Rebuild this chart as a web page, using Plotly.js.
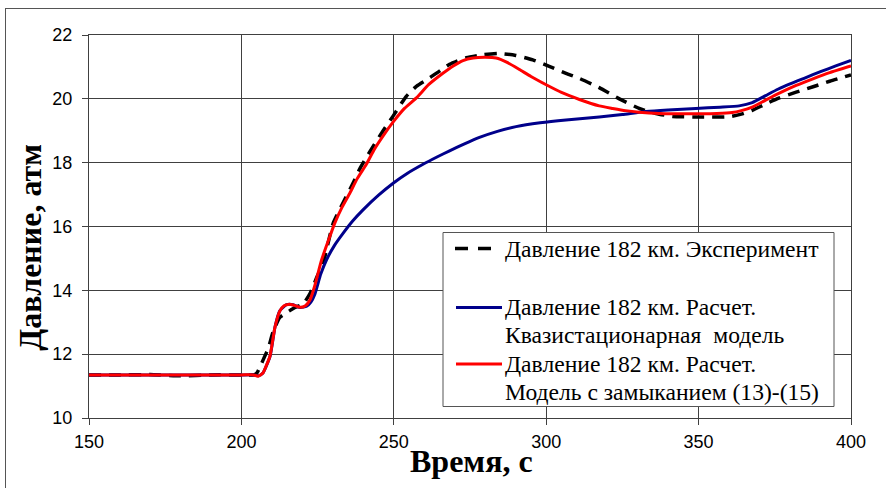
<!DOCTYPE html>
<html>
<head>
<meta charset="utf-8">
<script src="https://cdn.plot.ly/plotly-3.0.1.min.js"></script>
<style>
  html, body { margin: 0; padding: 0; background: #fff; }
  #wrap { position: relative; width: 886px; height: 488px; overflow: hidden; }
  #chart { position: absolute; left: 0; top: 0; width: 886px; height: 488px; }
  #frame { position: absolute; left: 5px; top: 8px; width: 900px; height: 500px;
           border: 1px solid #555; pointer-events: none; }
</style>
</head>
<body>
<div id="wrap"><div id="chart"></div><div id="frame"></div></div>
<script>
// ---- Data ----
const expTime = [150, 160, 170, 180, 190, 200, 204, 205, 206.1, 207.5, 208.8, 210.4, 212.6, 214.8, 217.6, 220.3, 222.5, 224.7, 226.8, 230.1, 233.4, 236.6, 238.8, 242.5, 246.5, 249.7, 254.1, 257.5, 261.8, 268.3, 273.8, 279, 284.7, 290, 295.6, 301, 306.5, 310.9, 317.4, 324, 330.5, 336, 341.4, 350, 360, 364, 367.6, 372, 376.3, 382, 387.3, 393, 400];
const expPressure = [11.35, 11.35, 11.36, 11.32, 11.35, 11.35, 11.35, 11.4, 11.6, 11.9, 12.18, 12.7, 13.15, 13.3, 13.46, 13.58, 13.9, 14.4, 14.85, 16.1, 16.75, 17.35, 17.8, 18.4, 19.0, 19.45, 20.08, 20.4, 20.66, 21.08, 21.29, 21.38, 21.42, 21.36, 21.22, 21.02, 20.8, 20.64, 20.35, 20.0, 19.7, 19.54, 19.45, 19.43, 19.44, 19.52, 19.64, 19.84, 20.02, 20.21, 20.37, 20.55, 20.75];

const quasiTime = [150, 160, 170, 180, 190, 200, 204, 205.5, 207, 209.4, 211, 212.6, 214.8, 217, 219.3, 221.4, 222.8, 224.1, 226, 227.9, 230.5, 233.4, 236.5, 239.9, 245, 250, 254.5, 259.6, 264, 268.3, 273, 278.1, 284, 290.1, 298, 306.5, 317.4, 325, 332.7, 340, 349.1, 357, 363.3, 367.6, 372, 376, 380, 385, 390, 395, 400];
const quasiPressure = [11.35, 11.35, 11.35, 11.35, 11.35, 11.35, 11.35, 11.32, 11.4, 11.93, 12.84, 13.36, 13.55, 13.55, 13.46, 13.5, 13.63, 13.88, 14.5, 14.95, 15.4, 15.79, 16.17, 16.52, 16.98, 17.37, 17.67, 17.95, 18.17, 18.37, 18.58, 18.79, 18.98, 19.13, 19.25, 19.34, 19.43, 19.51, 19.6, 19.65, 19.7, 19.74, 19.78, 19.88, 20.1, 20.3, 20.47, 20.66, 20.85, 21.03, 21.2];

const closureTime = [150, 160, 170, 180, 190, 200, 204, 205.5, 207, 208, 209.4, 211, 212.6, 214, 215.5, 217, 219.3, 221, 222.5, 224, 226.3, 228.5, 230.6, 233, 235.6, 238, 241, 243.5, 246.5, 250, 253.5, 257.4, 261.5, 266.1, 269.5, 272.7, 276, 280, 283.6, 287, 291.2, 295, 300, 305, 310.9, 317.4, 321.8, 326, 330.5, 337, 343.6, 350, 356, 361, 364, 367.6, 372, 376.3, 382, 387.3, 393, 400];
const closurePressure = [11.35, 11.35, 11.35, 11.35, 11.35, 11.35, 11.35, 11.31, 11.4, 11.6, 11.95, 12.84, 13.35, 13.52, 13.56, 13.54, 13.47, 13.52, 13.7, 14.12, 14.95, 15.55, 16.1, 16.6, 17.05, 17.5, 17.95, 18.4, 18.84, 19.3, 19.7, 20.03, 20.45, 20.8, 21.03, 21.2, 21.28, 21.3, 21.28, 21.15, 20.92, 20.7, 20.44, 20.2, 19.98, 19.78, 19.7, 19.63, 19.58, 19.54, 19.53, 19.53, 19.54, 19.57, 19.63, 19.74, 19.96, 20.17, 20.42, 20.62, 20.82, 21.03];

const xTickVals = [150, 200, 250, 300, 350, 400];
const yTickVals = [10, 12, 14, 16, 18, 20, 22];

const legendLabels = [
  'Давление 182 км. Эксперимент',
  'Давление 182 км. Расчет.',
  'Квазистационарная\u00a0 модель',
  'Давление 182 км. Расчет.',
  'Модель с замыканием (13)-(15)'
];
const xTitle = 'Время, с';
const yTitle = 'Давление, атм';

// ---- Layout helpers (pixel -> paper) ----
const M = { l: 89, r: 35, t: 35, b: 70 };
const W = 886, H = 488;
const PW = W - M.l - M.r, PH = H - M.t - M.b;
const PX = px => (px - M.l) / PW;
const PY = py => (H - M.b - py) / PH;

const traces = [
  { x: expTime, y: expPressure, type: 'scatter', mode: 'lines',
    line: { color: '#000000', width: 3.5, dash: '12px,8px', shape: 'spline', smoothing: 0.5 }, hoverinfo: 'skip' },
  { x: quasiTime, y: quasiPressure, type: 'scatter', mode: 'lines',
    line: { color: '#00008B', width: 3, shape: 'spline', smoothing: 0.5 }, hoverinfo: 'skip' },
  { x: closureTime, y: closurePressure, type: 'scatter', mode: 'lines',
    line: { color: '#FF0000', width: 3, shape: 'spline', smoothing: 0.5 }, hoverinfo: 'skip' }
];

const serif = "'Liberation Serif', 'Times New Roman', serif";
const legFont = { family: serif, size: 23.6, color: '#000' };
const asc = 0.891;

function legText(txt, baseline) {
  return { text: txt, xref: 'paper', yref: 'paper', x: PX(505), y: PY(baseline - asc * legFont.size),
           xanchor: 'left', yanchor: 'top', showarrow: false, font: legFont, borderpad: 0, borderwidth: 0 };
}

const tickFont = { family: "'Liberation Sans', Arial, sans-serif", size: 18, color: '#000' };

const layout = {
  width: W, height: H,
  margin: M,
  paper_bgcolor: 'rgba(0,0,0,0)', plot_bgcolor: '#fff',
  showlegend: false,
  xaxis: {
    range: [150, 400], tickvals: xTickVals, ticktext: xTickVals.map(String),
    showgrid: true, gridcolor: '#404040', gridwidth: 1,
    ticks: 'outside', ticklen: 6, tickcolor: '#404040', tickwidth: 1,
    showline: true, mirror: true, linecolor: '#404040', linewidth: 1,
    zeroline: false, fixedrange: true, ticklabelstandoff: 1,
    tickfont: tickFont
  },
  yaxis: {
    range: [10, 22], tickvals: yTickVals, ticktext: yTickVals.map(String),
    showgrid: true, gridcolor: '#404040', gridwidth: 1,
    ticks: 'outside', ticklen: 6, tickcolor: '#404040', tickwidth: 1,
    showline: true, mirror: true, linecolor: '#404040', linewidth: 1,
    zeroline: false, fixedrange: true, ticklabelstandoff: 6,
    tickfont: tickFont
  },
  shapes: [
    { type: 'rect', xref: 'paper', yref: 'paper', x0: PX(443), x1: PX(834), y0: PY(406.5), y1: PY(232.5),
      line: { color: '#555', width: 1 }, fillcolor: '#fff', layer: 'above' },
    { type: 'line', xref: 'paper', yref: 'paper', x0: PX(455), x1: PX(493), y0: PY(248.5), y1: PY(248.5),
      line: { color: '#000', width: 3.5, dash: '13px,10px' }, layer: 'above' },
    { type: 'line', xref: 'paper', yref: 'paper', x0: PX(456), x1: PX(502), y0: PY(307.5), y1: PY(307.5),
      line: { color: '#00008B', width: 3 }, layer: 'above' },
    { type: 'line', xref: 'paper', yref: 'paper', x0: PX(456), x1: PX(502), y0: PY(364), y1: PY(364),
      line: { color: '#FF0000', width: 3 }, layer: 'above' }
  ],
  annotations: [
    legText(legendLabels[0], 257.3),
    legText(legendLabels[1], 315),
    legText(legendLabels[2], 342.7),
    legText(legendLabels[3], 371.7),
    legText(legendLabels[4], 400),
    { text: '<b>' + xTitle + '</b>', xref: 'paper', yref: 'paper', x: PX(471.7), y: PY(471.7 - asc * 32),
      xanchor: 'center', yanchor: 'top', showarrow: false, borderpad: 0, borderwidth: 0,
      font: { family: serif, size: 32, color: '#000' } },
    { text: '<b>' + yTitle + '</b>', xref: 'paper', yref: 'paper', x: PX(30.2), y: PY(247.5),
      xanchor: 'center', yanchor: 'middle', textangle: -90, showarrow: false, borderpad: 0, borderwidth: 0,
      font: { family: serif, size: 32, color: '#000' } }
  ]
};

Plotly.newPlot('chart', traces, layout, { staticPlot: true, displayModeBar: false });
</script>
</body>
</html>
